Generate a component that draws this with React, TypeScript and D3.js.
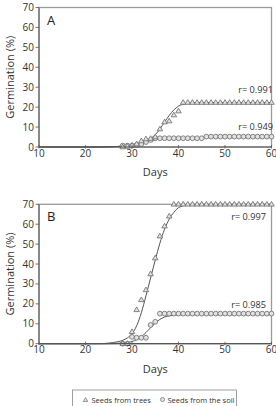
import React from "react";
import * as d3 from "d3";

const width = 276;
const height = 406;
const marginLeft = 39;
const marginRight = 4;

// sampled days (markers are one per day)
const markerDays = d3.range(28, 61);
const fitDays = [10, 20, 24, 25, 26, 27, 28, 29, 30, 31, 32, 33, 34, 35, 36, 37, 38, 39, 40, 41, 42, 43, 44, 50, 60];

const xTicks = [10, 20, 30, 40, 50, 60];
const yTicks = [0, 10, 20, 30, 40, 50, 60, 70];

// Panel A
const treesA = [0, 0.3, 0.8, 1.5, 3, 4, 4.2, 5, 9, 12.5, 13, 16, 18,
  22.3, 22.3, 22.3, 22.3, 22.3, 22.3, 22.3, 22.3, 22.3, 22.3,
  22.3, 22.3, 22.3, 22.3, 22.3, 22.3, 22.3, 22.3, 22.3, 22.3];
const soilA = [0.7, 0.7, 0.7, 1, 1.5, 2.5, 3.5,
  4.4, 4.4, 4.4, 4.4, 4.4, 4.4, 4.4, 4.4, 4.4, 4.4, 4.4,
  5.2, 5.2, 5.2, 5.2, 5.2, 5.2, 5.2, 5.2, 5.2, 5.2, 5.2, 5.2, 5.2, 5.2, 5.2];
const fitTreesA = [0, 0, 0.05, 0.1, 0.15, 0.25, 0.4, 0.6, 0.9, 1.3, 2, 2.9, 4.2, 6.2, 9, 12.5, 15.8, 18.6, 20.5, 21.5, 22, 22.2, 22.3, 22.3, 22.3];
const fitSoilA = [0, 0, 0.05, 0.1, 0.2, 0.3, 0.5, 0.7, 1, 1.4, 2, 2.6, 3.2, 3.7, 4.1, 4.3, 4.45, 4.55, 4.6, 4.65, 4.7, 4.7, 4.72, 4.75, 4.75];

// Panel B
const treesB = [0, 0, 6, 17, 22, 27, 35, 43, 54, 59, 64,
  70, 70, 70, 70, 70, 70, 70, 70, 70, 70, 70,
  70, 70, 70, 70, 70, 70, 70, 70, 70, 70, 70];
const soilB = [0, 0, 3.4, 3, 3, 3, 9.4, 11,
  15.1, 15.1, 15.1, 15.1, 15.1, 15.1, 15.1, 15.1, 15.1, 15.1, 15.1, 15.1, 15.1,
  15.1, 15.1, 15.1, 15.1, 15.1, 15.1, 15.1, 15.1, 15.1, 15.1, 15.1, 15.1];
const fitTreesB = [0, 0, 0.1, 0.3, 0.6, 1, 1.7, 2.9, 5, 9, 15.5, 24, 33, 42, 50.5, 57.5, 62.5, 66, 68.3, 69.3, 69.8, 70, 70, 70, 70];
const fitSoilB = [0, 0, 0, 0.05, 0.1, 0.2, 0.35, 0.6, 1.1, 2, 3.5, 5.6, 8, 10.4, 12.2, 13.4, 14, 14.3, 14.5, 14.6, 14.6, 14.6, 14.6, 14.6, 14.6];

const panels = [
  { label: "A", top: 7.5, bottom: 147, trees: treesA, soil: soilA, fitTrees: fitTreesA, fitSoil: fitSoilA, rTrees: "r= 0.991", rSoil: "r= 0.949", rTreesY: 93, rSoilY: 130, rRight: 273 },
  { label: "B", top: 204.3, bottom: 343.7, trees: treesB, soil: soilB, fitTrees: fitTreesB, fitSoil: fitSoilB, rTrees: "r= 0.997", rSoil: "r= 0.985", rTreesY: 220, rSoilY: 308, rRight: 266 },
];

const font = "'Open Sans', sans-serif";
const markerStroke = "#707070";
const markerFill = "#e2e2e2";
const curveColor = "#555";

const x = d3.scaleLinear().domain([10, 60]).range([marginLeft, width - marginRight - 0.5]);

const triPath = (cx: number, cy: number, s: number) =>
  `M${cx},${cy - s}L${cx + s * 0.95},${cy + s * 0.6}L${cx - s * 0.95},${cy + s * 0.6}Z`;

function Panel({ p }: { p: typeof panels[number] }) {
  const y = d3.scaleLinear().domain([0, 70]).range([p.bottom, p.top]);
  const line = d3.line<number>()
    .x((_, i) => x(fitDays[i]))
    .y((v) => y(v))
    .curve(d3.curveMonotoneX);
  const midY = (p.top + p.bottom) / 2;
  return (
    <g>
      <rect x={x(10)} y={p.top} width={x(60) - x(10)} height={p.bottom - p.top} fill="none" stroke="#9a9a9a" strokeWidth={1.3} />
      {/* fitted curves */}
      <path d={line(p.fitSoil) || ""} fill="none" stroke={curveColor} strokeWidth={1} />
      <path d={line(p.fitTrees) || ""} fill="none" stroke={curveColor} strokeWidth={1} />
      {/* observed points */}
      {p.soil.map((v, i) => (
        <circle key={"s" + i} cx={x(markerDays[i])} cy={y(v)} r={2.4} fill={markerFill} stroke={markerStroke} strokeWidth={0.85} />
      ))}
      {p.trees.map((v, i) => (
        <path key={"t" + i} d={triPath(x(markerDays[i]), y(v), 2.9)} fill={markerFill} stroke={markerStroke} strokeWidth={0.85} />
      ))}
      {/* axes */}
      <line x1={x(10)} x2={x(10)} y1={p.top} y2={p.bottom} stroke="#555" strokeWidth={1} />
      <line x1={x(10)} x2={x(60)} y1={p.bottom} y2={p.bottom} stroke="#555" strokeWidth={1.2} />
      {yTicks.map((t) => (
        <g key={"y" + t}>
          <line x1={x(10) - 3.5} x2={x(10)} y1={y(t)} y2={y(t)} stroke="#555" strokeWidth={0.8} />
          <text x={x(10) - 5} y={y(t)} dy="0.35em" textAnchor="end" fontSize={10} fill="#333">{t}</text>
        </g>
      ))}
      {xTicks.map((t) => (
        <g key={"x" + t}>
          <line x1={x(t)} x2={x(t)} y1={p.bottom - 2} y2={p.bottom + 1.5} stroke="#555" strokeWidth={0.8} />
          <text x={x(t)} y={p.bottom + 9.5} textAnchor="middle" fontSize={10} fill="#333">{t}</text>
        </g>
      ))}
      <text x={x(10) + 8} y={p.top + 17} fontSize={13} fill="#222">{p.label}</text>
      <text x={p.rRight} y={p.rTreesY} textAnchor="end" fontSize={9.2} fill="#333">{p.rTrees}</text>
      <text x={p.rRight} y={p.rSoilY} textAnchor="end" fontSize={9.2} fill="#333">{p.rSoil}</text>
      <text x={(x(10) + x(60)) / 2} y={p.bottom + 29} textAnchor="middle" fontSize={11} fill="#333">Days</text>
      <text transform={`translate(13.5,${midY}) rotate(-90)`} textAnchor="middle" fontSize={11} fill="#333">Germination (%)</text>
    </g>
  );
}

export default function App() {
  return (
    <svg width={width} height={height} viewBox={`0 0 ${width} ${height}`}
      style={{ position: "absolute", left: 0, top: 0, background: "#fff", fontFamily: font }}>
      {panels.map((p) => <Panel key={p.label} p={p} />)}
      {/* legend */}
      <g>
        <rect x={72.5} y={390} width={164} height={18} fill="#fff" stroke="#888" strokeWidth={0.8} />
        <path d={triPath(85.5, 400, 2.4)} fill={markerFill} stroke={markerStroke} strokeWidth={0.7} />
        <text x={91.5} y={402.8} fontSize={7.5} fill="#333">Seeds from trees</text>
        <circle cx={162.5} cy={399.5} r={2.1} fill={markerFill} stroke={markerStroke} strokeWidth={0.7} />
        <text x={167.5} y={402.8} fontSize={7.5} fill="#333">Seeds from the soil</text>
      </g>
    </svg>
  );
}
